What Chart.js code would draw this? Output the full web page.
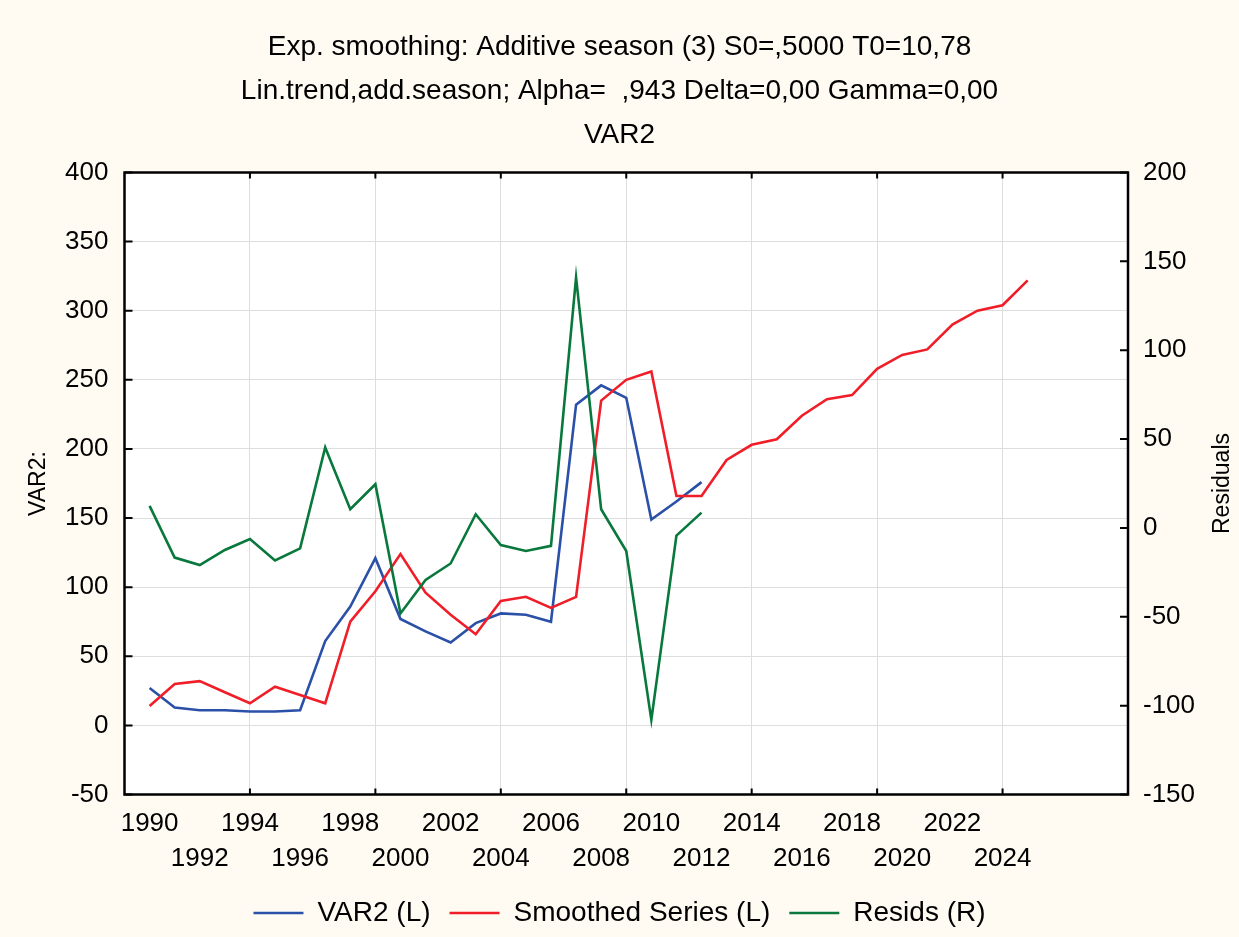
<!DOCTYPE html>
<html>
<head>
<meta charset="utf-8">
<script src="https://cdn.jsdelivr.net/npm/chart.js@4.4.1/dist/chart.umd.min.js"></script>
<style>
  html, body { margin: 0; padding: 0; background: #fffbf3; }
  #wrap { width: 1239px; height: 937px; }
</style>
</head>
<body>
<div id="wrap"><canvas id="chart" width="1239" height="937"></canvas></div>
<script>
// years of the series (case 1 = 1990)
const years = [
  1990, 1991, 1992, 1993, 1994, 1995, 1996, 1997, 1998, 1999,
  2000, 2001, 2002, 2003, 2004, 2005, 2006, 2007, 2008, 2009,
  2010, 2011, 2012, 2013, 2014, 2015, 2016, 2017, 2018, 2019,
  2020, 2021, 2022, 2023, 2024, 2025,
];

// observed series, 1990-2012 (left axis)
const var2 = [
  27, 13, 11, 11, 10, 10, 11, 61, 86, 121,
  77, 68, 60, 74, 81, 80, 75, 232, 246, 237,
  149, 162, 176,
];

// smoothed series + forecast, 1990-2025 (left axis)
const smoothed = [
  14, 30, 32, 24, 16, 28, 22, 16, 75, 97,
  124, 96, 80, 66, 90, 93, 85, 93, 235, 250,
  256, 166, 166, 192, 203, 207, 224, 236, 239, 258,
  268, 272, 290, 300, 304, 322,
];

// residuals, 1990-2012 (right axis)
const resids = [
  12.4, -16.7, -20.9, -12.4, -6.2, -18.3, -11.5, 45.3, 10.5, 24.6,
  -48.1, -29.3, -20, 7.7, -9.6, -13, -10.1, 141, 10.5, -13,
  -108, -4.3, 8.6,
];

// labelled years on the x axis (two staggered rows)
const labelYears = [
  1990, 1992, 1994, 1996, 1998, 2000, 2002, 2004, 2006,
  2008, 2010, 2012, 2014, 2016, 2018, 2020, 2022, 2024,
];

const X_MIN = 1989;
const X_MAX = 2029;

const titleLines = [
  "Exp. smoothing: Additive season (3) S0=,5000 T0=10,78",
  "Lin.trend,add.season; Alpha=  ,943 Delta=0,00 Gamma=0,00",
  "VAR2",
];
const rightTitle = "Residuals";

const COLORS = {
  var2: "#2b50a8",
  smoothed: "#f01e28",
  resids: "#08783c",
  grid: "#dddddd",
  text: "#000000",
  page: "#fffbf3",
};

const FONT = "'Liberation Sans', Arial, sans-serif";
const LINE_W = 2.6;

const toPoints = (values) => values.map((v, i) => ({ x: years[i], y: v }));
const isGridYear = (v) => (v - X_MIN) % 5 === 0 && v !== X_MIN && v !== X_MAX;

// page background, white plot area, black frame, inward tick marks,
// and the right axis title (reads bottom to top like the left one)
const framePlugin = {
  id: "frame",
  beforeDraw(chart) {
    const { ctx, chartArea: a } = chart;
    ctx.save();
    ctx.fillStyle = COLORS.page;
    ctx.fillRect(0, 0, chart.width, chart.height);
    ctx.fillStyle = "#ffffff";
    ctx.fillRect(a.left, a.top, a.right - a.left, a.bottom - a.top);
    ctx.restore();
  },
  afterDatasetsDraw(chart) {
    const { ctx, chartArea: a, scales } = chart;
    ctx.save();
    ctx.strokeStyle = "#000";
    ctx.lineWidth = 2;
    ctx.beginPath();
    scales.y.ticks.forEach((t) => {
      const py = scales.y.getPixelForValue(t.value);
      ctx.moveTo(a.left, py);
      ctx.lineTo(a.left + 8, py);
    });
    scales.y1.ticks.forEach((t) => {
      const py = scales.y1.getPixelForValue(t.value);
      ctx.moveTo(a.right, py);
      ctx.lineTo(a.right - 8, py);
    });
    scales.x.ticks.forEach((t) => {
      if (!isGridYear(t.value)) return;
      const px = scales.x.getPixelForValue(t.value);
      ctx.moveTo(px, a.bottom);
      ctx.lineTo(px, a.bottom - 6);
      ctx.moveTo(px, a.top);
      ctx.lineTo(px, a.top + 6);
    });
    ctx.stroke();
    ctx.lineWidth = 2.5;
    ctx.strokeRect(a.left, a.top, a.right - a.left, a.bottom - a.top);

    ctx.translate(1223, (a.top + a.bottom) / 2);
    ctx.rotate(-Math.PI / 2);
    ctx.fillStyle = COLORS.text;
    ctx.font = "23px " + FONT;
    ctx.textAlign = "center";
    ctx.textBaseline = "middle";
    ctx.fillText(rightTitle, 0, 0);
    ctx.restore();
  },
};

Chart.defaults.font.family = FONT;
Chart.defaults.color = COLORS.text;

new Chart(document.getElementById("chart"), {
  type: "line",
  data: {
    datasets: [
      {
        label: "VAR2 (L)",
        data: toPoints(var2),
        borderColor: COLORS.var2,
        backgroundColor: COLORS.var2,
        borderWidth: LINE_W,
        yAxisID: "y",
        order: 3,
      },
      {
        label: "Smoothed Series (L)",
        data: toPoints(smoothed),
        borderColor: COLORS.smoothed,
        backgroundColor: COLORS.smoothed,
        borderWidth: LINE_W,
        yAxisID: "y",
        order: 2,
      },
      {
        label: "Resids (R)",
        data: toPoints(resids),
        borderColor: COLORS.resids,
        backgroundColor: COLORS.resids,
        borderWidth: LINE_W,
        yAxisID: "y1",
        order: 1,
      },
    ],
  },
  options: {
    responsive: false,
    animation: false,
    layout: { padding: { left: 0, right: 0, top: 0, bottom: 0 } },
    elements: {
      line: { tension: 0, fill: false },
      point: { radius: 0 },
    },
    plugins: {
      title: {
        display: true,
        text: titleLines,
        color: COLORS.text,
        font: { size: 28, weight: "normal", lineHeight: 44 / 28 },
        padding: { top: 25, bottom: 15.5 },
      },
      legend: {
        display: true,
        position: "bottom",
        labels: {
          usePointStyle: true,
          pointStyle: "line",
          pointStyleWidth: 50,
          padding: 19,
          color: COLORS.text,
          font: { size: 28 },
          sort: (a, b) => a.datasetIndex - b.datasetIndex,
        },
      },
      tooltip: { enabled: false },
    },
    scales: {
      x: {
        type: "linear",
        min: X_MIN,
        max: X_MAX,
        afterBuildTicks: (scale) => {
          const ticks = [];
          for (let v = X_MIN; v <= X_MAX; v++) ticks.push({ value: v });
          scale.ticks = ticks;
        },
        afterFit: (scale) => {
          scale.height = 85.5;
        },
        border: { display: false },
        grid: {
          drawTicks: false,
          color: (ctx) => (ctx.tick && isGridYear(ctx.tick.value) ? COLORS.grid : "rgba(0,0,0,0)"),
        },
        ticks: {
          autoSkip: false,
          maxRotation: 0,
          minRotation: 0,
          padding: 12,
          color: COLORS.text,
          font: { size: 26, lineHeight: 35 / 26 },
          callback: (v) => {
            if (!labelYears.includes(v)) return "";
            return (v - 1990) % 4 === 0 ? [String(v), ""] : ["", String(v)];
          },
        },
      },
      y: {
        position: "left",
        min: -50,
        max: 400,
        afterFit: (scale) => {
          scale.width = 124.5;
        },
        border: { display: false },
        grid: { drawTicks: false, color: COLORS.grid },
        ticks: { stepSize: 50, padding: 16, color: COLORS.text, font: { size: 26 } },
        title: {
          display: true,
          text: "VAR2:",
          color: COLORS.text,
          font: { size: 23 },
          padding: { top: 25, bottom: 0 },
        },
      },
      y1: {
        position: "right",
        min: -150,
        max: 200,
        afterFit: (scale) => {
          scale.width = 111;
        },
        border: { display: false },
        grid: { display: false, drawTicks: false },
        ticks: { stepSize: 50, padding: 15, color: COLORS.text, font: { size: 26 } },
        title: { display: false },
      },
    },
  },
  plugins: [framePlugin],
});
</script>
</body>
</html>
